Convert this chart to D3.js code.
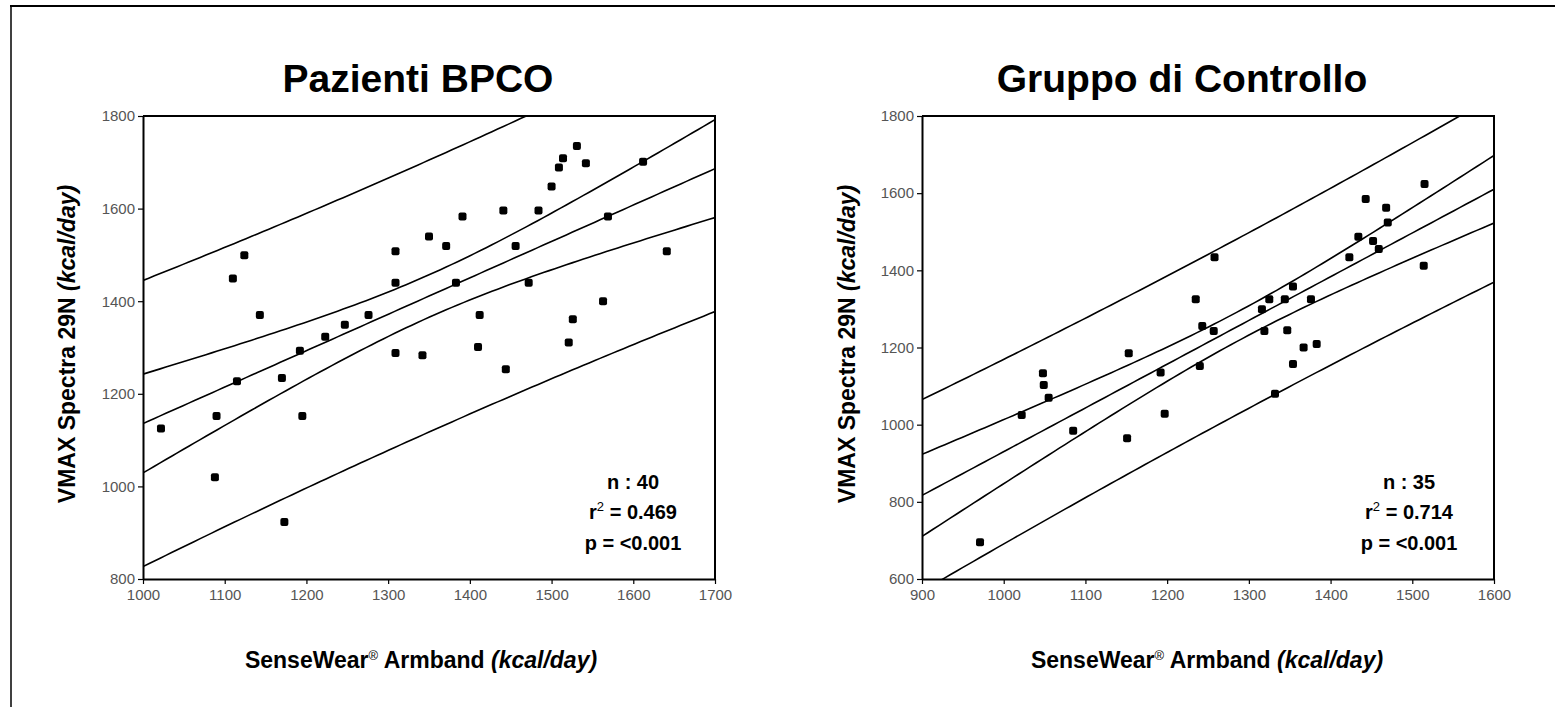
<!DOCTYPE html>
<html>
<head>
<meta charset="utf-8">
<script src="https://cdn.jsdelivr.net/npm/d3@7"></script>
<style>
  body { margin: 0; background: #fff; }
  svg { display: block; font-family: "Liberation Sans", Arial, sans-serif; }
</style>
</head>
<body>
<svg width="1555" height="707"></svg>
<script>
// Pazienti BPCO (SenseWear vs VMAX, kcal/day)
var bpcoX = [1022, 1088, 1090, 1110, 1115, 1124, 1143, 1170, 1173, 1192,
             1195, 1223, 1247, 1276, 1309, 1309, 1309, 1342, 1350, 1371,
             1383, 1391, 1410, 1412, 1441, 1444, 1456, 1472, 1484, 1500,
             1509, 1514, 1521, 1526, 1531, 1542, 1563, 1569, 1612, 1641];
var bpcoY = [1125, 1020, 1152, 1449, 1227, 1499, 1370, 1234, 923, 1293,
             1152, 1323, 1349, 1370, 1508, 1440, 1288, 1283, 1540, 1519,
             1440, 1583, 1301, 1370, 1596, 1253, 1519, 1440, 1596, 1648,
             1689, 1709, 1311, 1361, 1735, 1698, 1400, 1583, 1701, 1508];

// Gruppo di Controllo
var ctrlX = [971, 1022, 1048, 1049, 1055, 1085, 1151, 1153, 1192, 1197,
             1235, 1240, 1243, 1257, 1258, 1316, 1319, 1325, 1332, 1344,
             1347, 1354, 1354, 1367, 1376, 1383, 1423, 1434, 1443, 1452,
             1459, 1468, 1470, 1514, 1515];
var ctrlY = [695, 1025, 1133, 1103, 1070, 984, 965, 1185, 1135, 1028,
             1325, 1152, 1256, 1243, 1434, 1299, 1243, 1325, 1080, 1325,
             1245, 1358, 1157, 1200, 1325, 1209, 1434, 1487, 1585, 1476,
             1455, 1562, 1524, 1412, 1624];

var bpcoXTicks = [1000, 1100, 1200, 1300, 1400, 1500, 1600, 1700];
var bpcoYTicks = [800, 1000, 1200, 1400, 1600, 1800];
var ctrlXTicks = [900, 1000, 1100, 1200, 1300, 1400, 1500, 1600];
var ctrlYTicks = [600, 800, 1000, 1200, 1400, 1600, 1800];

var titles = ["Pazienti BPCO", "Gruppo di Controllo"];
var statsText = [["n : 40", "0.469"], ["n : 35", "0.714"]];
var tValues = [2.024, 2.035]; // t(0.975, n-2)

var svg = d3.select("svg");

// outer border (top + left)
svg.append("line").attr("x1", 10).attr("x2", 1555).attr("y1", 6).attr("y2", 6)
    .attr("stroke", "#000").attr("stroke-width", 2);
svg.append("line").attr("x1", 11).attr("x2", 11).attr("y1", 6).attr("y2", 707)
    .attr("stroke", "#000").attr("stroke-width", 1.5);

var panels = [
  {xs: bpcoX, ys: bpcoY, xt: bpcoXTicks, yt: bpcoYTicks, left: 143, right: 715,
   title: titles[0], titleX: 418, ylabX: 75, xlabX: 421, statX: 633, stats: statsText[0], t: tValues[0]},
  {xs: ctrlX, ys: ctrlY, xt: ctrlXTicks, yt: ctrlYTicks, left: 922, right: 1494,
   title: titles[1], titleX: 1182, ylabX: 855, xlabX: 1207, statX: 1409, stats: statsText[1], t: tValues[1]}
];

var plotTop = 116, plotBottom = 579;

panels.forEach(function (p, i) {
    var x = d3.scaleLinear().domain(d3.extent(p.xt)).range([p.left, p.right]);
    var y = d3.scaleLinear().domain(d3.extent(p.yt)).range([plotBottom, plotTop]);

    // regression + 95% confidence and prediction bands
    var n = p.xs.length;
    var mx = d3.mean(p.xs), my = d3.mean(p.ys);
    var sxx = 0, sxy = 0;
    p.xs.forEach(function (v, k) {
        sxx += (v - mx) * (v - mx);
        sxy += (v - mx) * (p.ys[k] - my);
    });
    var b = sxy / sxx, a = my - b * mx;
    var sse = 0;
    p.xs.forEach(function (v, k) {
        var r = p.ys[k] - (a + b * v);
        sse += r * r;
    });
    var s = Math.sqrt(sse / (n - 2));

    var xd = x.domain();
    var grid = d3.range(0, 101).map(function (k) {
        return xd[0] + (xd[1] - xd[0]) * k / 100;
    });
    var curves = [
        function (v) { return p.t * s * Math.sqrt(1 + 1 / n + (v - mx) * (v - mx) / sxx); },
        function (v) { return p.t * s * Math.sqrt(1 / n + (v - mx) * (v - mx) / sxx); },
        function (v) { return 0; }
    ];

    svg.append("clipPath").attr("id", "clip" + i)
        .append("rect").attr("x", p.left).attr("y", plotTop)
        .attr("width", p.right - p.left).attr("height", plotBottom - plotTop);

    var line = d3.line()
        .x(function (d) { return x(d[0]); })
        .y(function (d) { return y(d[1]); });

    var g = svg.append("g").attr("clip-path", "url(#clip" + i + ")");
    curves.forEach(function (hw, c) {
        var signs = c === 2 ? [1] : [1, -1];
        signs.forEach(function (sg) {
            g.append("path")
                .attr("d", line(grid.map(function (v) { return [v, a + b * v + sg * hw(v)]; })))
                .attr("fill", "none")
                .attr("stroke", "#000")
                .attr("stroke-width", 1.6);
        });
    });

    // points
    svg.append("g").selectAll("rect")
        .data(p.xs)
        .enter()
        .append("rect")
        .attr("x", function (d) { return x(d) - 4; })
        .attr("y", function (d, k) { return y(p.ys[k]) - 4; })
        .attr("width", 8).attr("height", 8)
        .attr("rx", 2)
        .attr("fill", "#000");

    // frame
    svg.append("path")
        .attr("d", "M" + p.left + "," + plotTop + "H" + p.right + "V" + plotBottom)
        .attr("fill", "none").attr("stroke", "#000").attr("stroke-width", 2);

    var ax = svg.append("g").attr("transform", "translate(0," + plotBottom + ")")
        .call(d3.axisBottom(x).tickValues(p.xt).tickFormat(d3.format("d"))
            .tickSize(5).tickPadding(5).tickSizeOuter(0));
    var ay = svg.append("g").attr("transform", "translate(" + p.left + ",0)")
        .call(d3.axisLeft(y).tickValues(p.yt).tickFormat(d3.format("d"))
            .tickSize(5).tickPadding(3).tickSizeOuter(0));
    [ax, ay].forEach(function (axis) {
        axis.select(".domain").attr("stroke-width", 2);
        axis.selectAll(".tick line").attr("stroke-width", 1.2);
        axis.selectAll(".tick text")
            .attr("fill", "#555")
            .style("font-family", "Liberation Sans, Arial, sans-serif")
            .style("font-size", "15px");
    });

    // title
    svg.append("text")
        .attr("x", p.titleX).attr("y", 92)
        .attr("text-anchor", "middle")
        .style("font-size", "39px").style("font-weight", "bold")
        .text(p.title);

    // y label
    var yl = svg.append("text")
        .attr("transform", "translate(" + p.ylabX + ",344) rotate(-90)")
        .attr("text-anchor", "middle")
        .style("font-size", "23px").style("font-weight", "bold");
    yl.append("tspan").text("VMAX Spectra 29N ");
    yl.append("tspan").style("font-style", "italic").text("(kcal/day)");

    // x label
    var xl = svg.append("text")
        .attr("x", p.xlabX).attr("y", 668)
        .attr("text-anchor", "middle")
        .style("font-size", "23px").style("font-weight", "bold");
    xl.append("tspan").text("SenseWear");
    xl.append("tspan").attr("dy", -8).style("font-size", "13px").style("font-weight", "normal").text("®");
    xl.append("tspan").attr("dy", 8).text(" Armband ");
    xl.append("tspan").style("font-style", "italic").text("(kcal/day)");

    // stats
    var st = svg.append("g").style("font-size", "20px").style("font-weight", "bold")
        .attr("text-anchor", "middle");
    st.append("text").attr("x", p.statX).attr("y", 489).text(p.stats[0]);
    var r2 = st.append("text").attr("x", p.statX).attr("y", 519);
    r2.append("tspan").text("r");
    r2.append("tspan").attr("dy", -8).style("font-size", "13px").style("font-weight", "normal").text("2");
    r2.append("tspan").attr("dy", 8).text(" = " + p.stats[1]);
    st.append("text").attr("x", p.statX).attr("y", 550).text("p = <0.001");
});
</script>
</body>
</html>
